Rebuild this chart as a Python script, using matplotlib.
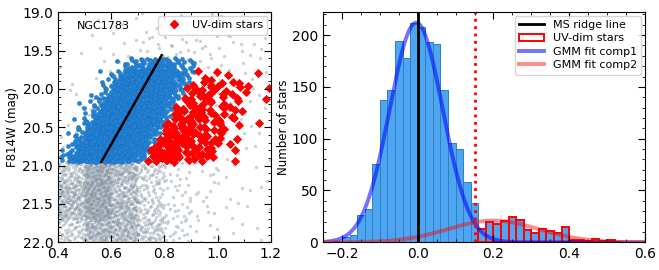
import numpy as np
import matplotlib
matplotlib.use('Agg')
import matplotlib.pyplot as plt
from matplotlib.patches import Patch
from matplotlib.lines import Line2D
from matplotlib.ticker import MultipleLocator

# --- histogram of colour distance from the MS ridge line (bin width 0.02) ---
bin_left = [-0.22, -0.20, -0.18, -0.16, -0.14, -0.12, -0.10, -0.08, -0.06, -0.04,
            -0.02, 0.00, 0.02, 0.04, 0.06, 0.08, 0.10, 0.12, 0.14, 0.16,
            0.18, 0.20, 0.22, 0.24, 0.26, 0.28, 0.30, 0.32, 0.34, 0.36,
            0.38, 0.40, 0.42, 0.44, 0.46, 0.48, 0.50, 0.52]
counts = [1, 5, 7, 26, 32, 76, 137, 147, 194, 178,
          212, 208, 193, 191, 147, 96, 90, 58, 38, 13,
          20, 18, 21, 24, 22, 12, 9, 13, 11, 9,
          15, 2, 2, 1, 3, 1, 2, 0]
bin_width = 0.02
uv_cut = 0.15

# GMM components: mean, sigma, peak height (stars per bin)
comp1 = (-0.004, 0.070, 212)
comp2 = (0.200, 0.120, 21)

# --- CMD ---
ridge_mag = [19.56, 20.95]
ridge_col = [0.790, 0.563]
# luminosity functions of the selected MS stars and of the UV-dim stars
lf_edges = [19.60, 19.75, 19.90, 20.05, 20.20, 20.35, 20.50, 20.65, 20.80, 20.95]
ms_lf = [3, 7, 8, 9, 10, 10, 10, 10, 10]
uv_lf = [0, 2, 5, 6, 7, 8, 9, 10, 11]

# other stars in the field: counts per cell
grey_col_edges = [0.4, 0.5, 0.6, 0.7, 0.8, 0.9, 1.0, 1.1, 1.2]
grey_mag_edges = [19.0, 19.3, 19.6, 19.95, 20.3, 20.65, 20.95, 21.2, 21.45, 21.7, 22.0]
grey_counts = [
    [0, 1, 3, 4, 5, 4, 3, 2],
    [1, 2, 4, 8, 9, 8, 6, 4],
    [2, 3, 5, 6, 8, 8, 6, 4],
    [3, 4, 5, 6, 6, 6, 5, 4],
    [4, 5, 6, 6, 6, 6, 5, 3],
    [5, 6, 6, 6, 6, 6, 4, 3],
    [60, 140, 100, 40, 10, 5, 3, 2],
    [90, 150, 80, 30, 10, 5, 3, 2],
    [90, 150, 100, 40, 14, 6, 3, 2],
    [50, 130, 120, 65, 18, 6, 3, 2],
]


def radical_inverse(k, base):
    f, r = 1.0, 0.0
    while k > 0:
        f /= base
        r += f * (k % base)
        k //= base
    return r


def spread(n, start):
    # evenly spread n positions inside a unit cell (leaped Halton 2,3)
    ks = [(i * 7) + 1 for i in range(start, start + n)]
    return (np.array([radical_inverse(i, 2) for i in ks]),
            np.array([radical_inverse(i, 3) for i in ks]))


# place the histogram stars on the CMD
ms_x, ms_y, uv_x, uv_y = [], [], [], []
k = 0
for lo, n in zip(bin_left, counts):
    u, v = spread(n, k)
    k += n
    w = ms_lf if lo < uv_cut else uv_lf
    cdf = np.concatenate([[0], np.cumsum(w)]) / np.sum(w)
    mag = np.interp(v, cdf, lf_edges)
    col = np.interp(mag, ridge_mag, ridge_col) + lo + bin_width * u
    if lo < uv_cut:
        ms_x.extend(col); ms_y.extend(mag)
    else:
        uv_x.extend(col); uv_y.extend(mag)

gx, gy = [], []
k = 0
for i in range(len(grey_mag_edges) - 1):
    for j in range(len(grey_col_edges) - 1):
        n = grey_counts[i][j]
        u, v = spread(n, k)
        k += n
        gx.extend(grey_col_edges[j] + u * (grey_col_edges[j + 1] - grey_col_edges[j]))
        gy.extend(grey_mag_edges[i] + v * (grey_mag_edges[i + 1] - grey_mag_edges[i]))

fig = plt.figure(figsize=(6.59, 2.70), dpi=100)
ax1 = fig.add_axes([0.088, 0.1026, 0.3228, 0.8519])
ax2 = fig.add_axes([0.4903, 0.1026, 0.4882, 0.8519])

ax1.scatter(gx, gy, s=6, color='slategray', alpha=0.35, linewidths=0)
ax1.scatter(ms_x, ms_y, s=9, color='#2483d6', edgecolors='#1a6fbf', linewidths=0.3)
ax1.scatter(uv_x, uv_y, s=22, marker='D', color='red', linewidths=0)
ax1.plot(ridge_col, ridge_mag, color='black', lw=1.8)
ax1.text(0.47, 19.12, 'NGC1783', fontsize=8, va='top')
ax1.set_xlim(0.4, 1.2)
ax1.set_ylim(22.0, 19.0)
ax1.set_ylabel('F814W (mag)', fontsize=8.5, labelpad=2)
ax1.xaxis.set_major_locator(MultipleLocator(0.2))
ax1.xaxis.set_minor_locator(MultipleLocator(0.1))
ax1.yaxis.set_major_locator(MultipleLocator(0.5))
ax1.yaxis.set_minor_locator(MultipleLocator(0.1))
ax1.legend(handles=[Line2D([], [], marker='D', color='red', ls='none', markersize=4.5,
                           label='UV-dim stars')],
           loc='upper right', fontsize=8, handletextpad=0.6, borderpad=0.4,
           borderaxespad=0.3)

# right panel: histogram
ax2.bar(bin_left, counts, width=bin_width, align='edge', color='#4ea6f2',
        edgecolor='#2f7fc1', linewidth=0.7)
uv_left = [b for b in bin_left if b > uv_cut]
uv_counts = [c for b, c in zip(bin_left, counts) if b > uv_cut]
ax2.bar(uv_left, uv_counts, width=bin_width, align='edge', facecolor='none',
        edgecolor='red', linewidth=1.4)
xs = np.linspace(-0.25, 0.6, 400)
for (mu, sig, amp), c, a in [(comp1, 'blue', 0.55), (comp2, 'red', 0.45)]:
    ax2.plot(xs, amp * np.exp(-0.5 * ((xs - mu) / sig) ** 2), color=c, alpha=a, lw=2.8)
ax2.axvline(0.0, color='black', lw=2)
ax2.axvline(uv_cut, color='red', lw=2, ls=':')
ax2.set_xlim(-0.25, 0.6)
ax2.set_ylim(0, 222)
ax2.set_ylabel('Number of stars', fontsize=8.5, labelpad=1)
ax2.xaxis.set_major_locator(MultipleLocator(0.2))
ax2.xaxis.set_minor_locator(MultipleLocator(0.05))
ax2.yaxis.set_major_locator(MultipleLocator(50))
ax2.yaxis.set_minor_locator(MultipleLocator(10))
handles = [Line2D([], [], color='black', lw=2, label='MS ridge line'),
           Patch(facecolor='none', edgecolor='red', lw=1.4, label='UV-dim stars'),
           Line2D([], [], color='blue', alpha=0.55, lw=2.8, label='GMM fit comp1'),
           Line2D([], [], color='red', alpha=0.45, lw=2.8, label='GMM fit comp2')]
ax2.legend(handles=handles, loc='upper right', fontsize=8, borderpad=0.4,
           labelspacing=0.3, handlelength=2.2, borderaxespad=0.3)

for ax in (ax1, ax2):
    ax.tick_params(which='both', direction='in', top=True, right=True, labelsize=10)
    ax.tick_params(which='major', length=5)
    ax.tick_params(which='minor', length=2.5)

fig.savefig('out.png', dpi=100)
